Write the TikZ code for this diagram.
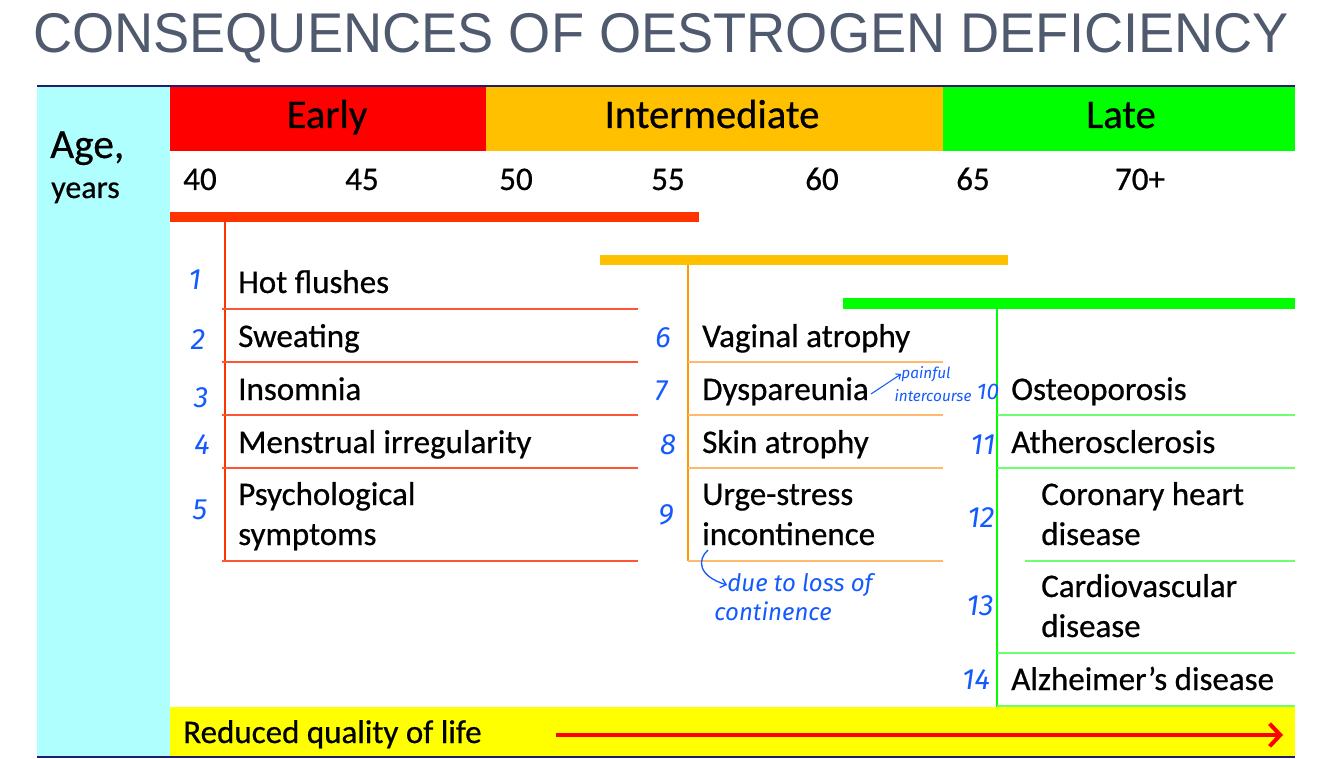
\documentclass[tikz,border=0pt]{standalone}
\usepackage{fontspec}
\setmainfont{Carlito}[FakeBold=0.6]
\newfontfamily\titlefont{Liberation Sans}
\newfontfamily\handfont{Fira Sans}
\usetikzlibrary{arrows.meta}
\definecolor{cyanc}{RGB}{176,255,255}
\definecolor{hred}{RGB}{255,0,0}
\definecolor{horange}{RGB}{255,192,0}
\definecolor{hgreen}{RGB}{0,255,0}
\definecolor{barred}{RGB}{255,51,0}
\definecolor{vorange}{RGB}{255,153,0}
\definecolor{lorange}{RGB}{255,185,110}
\definecolor{lred}{RGB}{255,85,55}
\definecolor{lgreen}{RGB}{110,255,110}
\definecolor{hblue}{RGB}{20,90,255}
\definecolor{titlec}{RGB}{80,90,110}
\definecolor{navy}{RGB}{30,30,110}
\definecolor{yel}{RGB}{255,255,0}
\begin{document}
\begin{tikzpicture}[x=0.75pt,y=-0.75pt,
  item/.style={anchor=base west,inner sep=0pt,font=\fontsize{24.75}{30}\selectfont},
  head/.style={anchor=base,inner sep=0pt,font=\fontsize{30.5}{36}\selectfont},
  agenum/.style={anchor=base,inner sep=0pt,font=\fontsize{24.75}{30}\selectfont},
  hnum/.style={inner sep=0pt,text=hblue,font=\handfont\itshape\fontsize{22}{26}\selectfont},
  hnote/.style={inner sep=0pt,text=hblue,font=\handfont\itshape\fontsize{18}{22}\selectfont},
  hsmall/.style={inner sep=0pt,text=hblue,font=\handfont\itshape\fontsize{11.5}{13}\selectfont},
  sepred/.style={lred,line width=1.5pt},
  sepor/.style={lorange,line width=1.5pt},
  sepgr/.style={lgreen,line width=1.5pt},
  vline/.style={line width=2.2pt}]
\useasboundingbox (0,0) rectangle (1334,759);
% title
\node[anchor=base,inner sep=0pt,text=titlec,xscale=0.968,font=\titlefont\fontsize{42}{48}\selectfont] (title) at (661,53) {CONSEQUENCES OF OESTROGEN DEFICIENCY};
% backgrounds
\fill[cyanc] (37,86) rectangle (170,757);
\fill[hred] (170,87) rectangle (486,151);
\fill[horange] (486,87) rectangle (943,151);
\fill[hgreen] (943,87) rectangle (1295,151);
\fill[yel] (170,707) rectangle (1295,756);
\draw[navy,line width=1pt] (37,86) -- (1295,86);
\draw[navy,line width=1.8pt] (37,757) -- (1295,757);
% headers
\node[head] (early) at (327,128) {Early};
\node[head] (inter) at (712,128) {Intermediate};
\node[head] (late) at (1121,128) {Late};
\node[anchor=base west,inner sep=0pt,font=\fontsize{31}{36}\selectfont] (age) at (50,158) {Age,};
\node[anchor=base west,inner sep=0pt,font=\fontsize{24}{30}\selectfont] (years) at (51,198) {years};
\node[agenum] (a40) at (200,190) {40};
\node[agenum] (a45) at (362,190) {45};
\node[agenum] (a50) at (516,190) {50};
\node[agenum] (a55) at (668,190) {55};
\node[agenum] (a60) at (822,190) {60};
\node[agenum] (a65) at (973,190) {65};
\node[agenum] (a70) at (1140,190) {70+};
% bars
\fill[barred] (170,212) rectangle (699,222);
\fill[horange] (600,255) rectangle (1008,265);
\fill[hgreen] (843,298) rectangle (1295,309);
% early group
\draw[barred,vline] (225,222) -- (225,561);
\foreach \y in {309,362,415,468,561} \draw[sepred] (222,\y) -- (638,\y);
\node[item] (hot) at (238,293) {Hot flushes};
\node[item] (sweat) at (238,347) {Sweating};
\node[item] (insom) at (238,400) {Insomnia};
\node[item] (menst) at (238,453) {Menstrual irregularity};
\node[item] (psych) at (238,505) {Psychological};
\node[item] (symp) at (238,545) {symptoms};
% intermediate group
\draw[vorange,vline] (688,265) -- (688,561);
\foreach \y in {362,415,468,561} \draw[sepor] (688,\y) -- (943,\y);
\node[item] (vag) at (702,347) {Vaginal atrophy};
\node[item] (dysp) at (702,400) {Dyspareunia};
\node[item] (skin) at (702,453) {Skin atrophy};
\node[item] (urge) at (702,505) {Urge-stress};
\node[item] (incont) at (702,545) {incontinence};
% late group
\draw[hgreen,vline] (997,309) -- (997,707);
\foreach \y in {415,468,653,706} \draw[sepgr] (997,\y) -- (1295,\y);
\draw[sepgr] (1025,561) -- (1295,561);
\node[item] (osteo) at (1011,400) {Osteoporosis};
\node[item] (ather) at (1011,453) {Atherosclerosis};
\node[item] (coro) at (1041,505) {Coronary heart};
\node[item] (coro2) at (1041,545) {disease};
\node[item] (cardio) at (1041,597) {Cardiovascular};
\node[item] (cardio2) at (1041,637) {disease};
\node[item] (alz) at (1011,690) {Alzheimer’s disease};
% quality of life
\node[anchor=base west,inner sep=0pt,font=\fontsize{24.75}{30}\selectfont] (qol) at (183,743) {Reduced quality of life};
\coordinate (qs) at (556,735);
\coordinate (qe) at (1283,735);
\draw[hred,line width=3pt,-{Straight Barb[length=8pt,width=17pt,line width=3pt]}] (qs) -- (qe);
% handwritten annotations
\node[hnum] (n1) at (195,280) {1};
\node[hnum] (n2) at (198,340) {2};
\node[hnum] (n3) at (201,398) {3};
\node[hnum] (n4) at (202,445) {4};
\node[hnum] (n5) at (200,510) {5};
\node[hnum] (n6) at (663,338) {6};
\node[hnum] (n7) at (661,391) {7};
\node[hnum] (n8) at (668,445) {8};
\node[hnum] (n9) at (666,515) {9};
\node[hnum,font=\handfont\itshape\fontsize{17}{20}\selectfont] (n10) at (988,392) {10};
\node[hnum] (n11) at (983,445) {11};
\node[hnum] (n12) at (981,518) {12};
\node[hnum] (n13) at (980,606) {13};
\node[hnum] (n14) at (976,680) {14};
\node[hsmall] (pain) at (926,374) {painful};
\node[hsmall] (interc) at (933,396) {intercourse};
\coordinate (pa) at (871,394);
\draw[hblue,line width=0.8pt,-{Straight Barb[length=3pt,width=5pt]}] (pa) -- (pain.west);
\node[hnote] (due) at (800,585) {due to loss of};
\node[hnote] (cont) at (773,611) {continence};
\coordinate (ca) at (708,550);
\draw[hblue,line width=1pt,-{Straight Barb[length=4pt,width=7pt]}] (ca) .. controls (697,560) and (698,576) .. (due.west);
\end{tikzpicture}
\end{document}
